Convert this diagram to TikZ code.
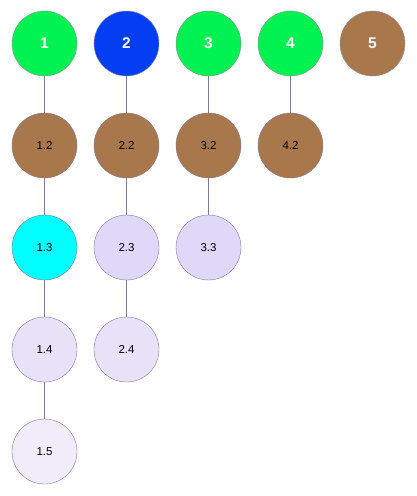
\documentclass[tikz,border=0pt]{standalone}
\usepackage{fontspec}
\setmainfont{Liberation Sans}

\definecolor{topgreen}{RGB}{0,242,82}
\definecolor{topblue}{RGB}{4,62,242}
\definecolor{brownfill}{RGB}{168,120,76}
\definecolor{cyanfill}{RGB}{0,255,255}
\definecolor{lavA}{RGB}{224,216,248}
\definecolor{lavB}{RGB}{232,226,248}
\definecolor{lavC}{RGB}{240,236,250}
\definecolor{rimgray}{RGB}{140,140,150}
\definecolor{rimlav}{RGB}{128,120,150}

\begin{document}
\begin{tikzpicture}[x=1pt, y=-1pt,
    every node/.style = {align=center},
    headn/.style      = {circle, draw=rimgray, minimum size=65pt,
                         inner sep=0pt, text=white,
                         font=\fontsize{15.5}{17}\selectfont\bfseries},
    subn/.style       = {circle, draw=rimlav, minimum size=65pt,
                         inner sep=0pt, text=black,
                         font=\fontsize{11.5}{13}\selectfont},
    linkln/.style     = {draw=rimlav, line width=0.8pt}]

    \useasboundingbox (0,0) rectangle (416,496);

    % Column heads
    \node[headn, fill=topgreen]  (n1) at ( 44.5, 43.5) {1};
    \node[headn, fill=topblue]   (n2) at (126.5, 43.5) {2};
    \node[headn, fill=topgreen]  (n3) at (208.5, 43.5) {3};
    \node[headn, fill=topgreen]  (n4) at (290.5, 43.5) {4};
    \node[headn, fill=brownfill] (n5) at (372.5, 43.5) {5};

    % Second row
    \node[subn, fill=brownfill] (n12) at ( 44.5, 145.5) {1.2};
    \node[subn, fill=brownfill] (n22) at (126.5, 145.5) {2.2};
    \node[subn, fill=brownfill] (n32) at (208.5, 145.5) {3.2};
    \node[subn, fill=brownfill] (n42) at (290.5, 145.5) {4.2};

    % Third row
    \node[subn, fill=cyanfill] (n13) at ( 44.5, 247.5) {1.3};
    \node[subn, fill=lavA]     (n23) at (126.5, 247.5) {2.3};
    \node[subn, fill=lavA]     (n33) at (208.5, 247.5) {3.3};

    % Fourth and fifth rows
    \node[subn, fill=lavB] (n14) at ( 44.5, 349.5) {1.4};
    \node[subn, fill=lavB] (n24) at (126.5, 349.5) {2.4};
    \node[subn, fill=lavC] (n15) at ( 44.5, 451.5) {1.5};

    % Links
    \draw[linkln] (n1)  -- (n12);
    \draw[linkln] (n12) -- (n13);
    \draw[linkln] (n13) -- (n14);
    \draw[linkln] (n14) -- (n15);

    \draw[linkln] (n2)  -- (n22);
    \draw[linkln] (n22) -- (n23);
    \draw[linkln] (n23) -- (n24);

    \draw[linkln] (n3)  -- (n32);
    \draw[linkln] (n32) -- (n33);

    \draw[linkln] (n4)  -- (n42);
  \end{tikzpicture}
\end{document}
